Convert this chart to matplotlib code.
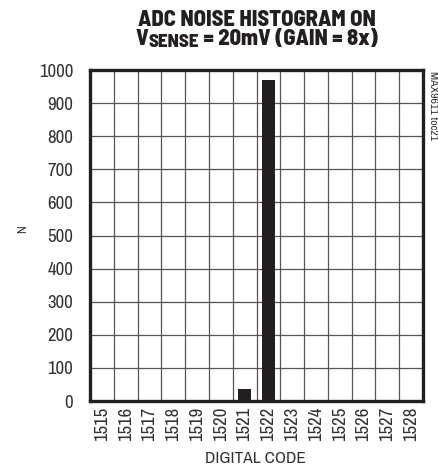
import matplotlib
matplotlib.use("Agg")
import matplotlib.pyplot as plt
import numpy as np

codes = [1515, 1516, 1517, 1518, 1519, 1520, 1521, 1522, 1523, 1524, 1525, 1526, 1527, 1528]
counts = [0, 0, 0, 0, 0, 0, 35, 970, 0, 0, 0, 0, 0, 0]
yticks = [0, 100, 200, 300, 400, 500, 600, 700, 800, 900, 1000]

NARROW = ["Archivo Narrow", "PT Sans Narrow", "Liberation Sans Narrow", "Liberation Sans", "DejaVu Sans"]
HEAVY = ["Barlow Semi Condensed", "Barlow Condensed", "Liberation Sans", "DejaVu Sans"]
plt.rcParams["font.family"] = NARROW
INK = "#231f20"
TXT = "#333333"

fig = plt.figure(figsize=(4.38, 4.65), dpi=100)
W, H = 438, 465
ax = fig.add_axes([90 / W, 1 - 401 / H, 333 / W, 331 / H])

ax.bar(codes, counts, width=0.55, color=INK, zorder=3)
ax.set_xlim(codes[0] - 0.5, codes[-1] + 0.5)
ax.set_ylim(0, 1000)
ax.set_yticks(yticks)
ax.set_yticklabels([str(v) for v in yticks], fontsize=13.5, color=TXT)
ax.set_xticks(codes)
ax.set_xticklabels([str(c) for c in codes], rotation=90, fontsize=13.5, color=TXT)
ax.set_xticks(np.arange(codes[0] + 0.5, codes[-1], 1.0), minor=True)
ax.tick_params(axis="both", which="both", length=0)
ax.tick_params(axis="x", pad=4)
ax.tick_params(axis="y", pad=12)
ax.grid(True, which="minor", axis="x", color="#555555", lw=0.9, zorder=1)
ax.grid(True, which="major", axis="y", color="#555555", lw=0.9, zorder=1)
for s in ax.spines.values():
    s.set_linewidth(2.4)
    s.set_color(INK)
    s.set_zorder(4)

fig.text(255 / W, 1 - 458 / H, "DIGITAL CODE", fontsize=12.5, color=TXT,
         ha="center", va="center")
fig.text(23 / W, 1 - 229 / H, "N", rotation=90, fontsize=9.5, color=TXT,
         ha="center", va="center")

renderer = fig.canvas.get_renderer()

# title line 1, fitted to the reference width
t1 = fig.text(257 / W, 1 - 26 / H, "ADC NOISE HISTOGRAM ON", fontsize=15, fontweight=800,
              family=HEAVY, ha="center", va="baseline", color=INK)
w1 = t1.get_window_extent(renderer).width
fs = 15 * 237.0 / w1
fs = max(11, min(fs, 18))
t1.set_fontsize(fs)

# title line 2 with small-caps subscript
pieces = [("V", fs, 0), ("SENSE", fs * 0.85, -1.6), (" = 20mV (GAIN = 8x)", fs, 0)]
objs = []
for s, f, dy in pieces:
    t = fig.text(0, 0, s, fontsize=f, fontweight=800, family=HEAVY,
                 ha="left", va="baseline", color=INK)
    objs.append((t, dy))
widths = [t.get_window_extent(renderer).width for t, _ in objs]
x = 257 - sum(widths) / 2
for (t, dy), w in zip(objs, widths):
    t.set_position((x / W, 1 - (45 - dy) / H))
    x += w

fig.text(433 / W, 1 - 71 / H, "MAX9611 toc21", rotation=270, fontsize=8.5,
         ha="center", va="top", color=TXT)

fig.savefig("out.png", dpi=100)
